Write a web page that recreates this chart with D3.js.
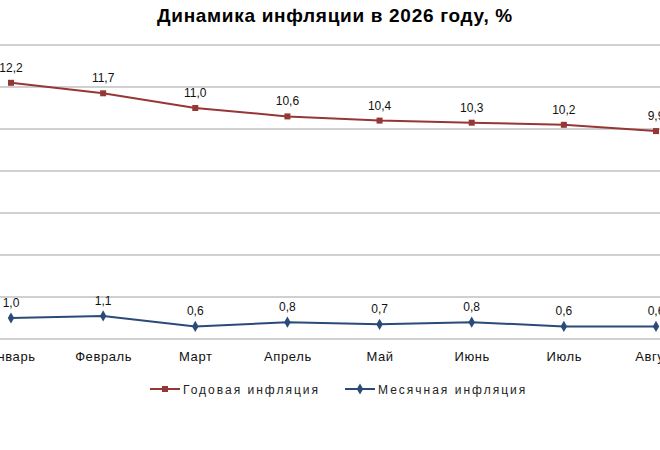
<!DOCTYPE html>
<html>
<head>
<meta charset="utf-8">
<script src="https://cdn.jsdelivr.net/npm/d3@7"></script>
<style>
  body { margin: 0; background: #fff; }
  svg { font-family: "Liberation Sans", Arial, sans-serif; }
</style>
</head>
<body>
<div></div>
<script>
let months = ["Январь", "Февраль", "Март", "Апрель", "Май", "Июнь", "Июль", "Август"]
let annual = [12.2, 11.7, 11.0, 10.6, 10.4, 10.3, 10.2, 9.9]
let monthly = [1.0, 1.1, 0.6, 0.8, 0.7, 0.8, 0.6, 0.6]
let yTicks = [0, 2, 4, 6, 8, 10, 12, 14]

let w = 660;
let h = 450;

let svg = d3.select("div").append("svg").attr("width", w).attr("height", h);

let xScale = d3.scalePoint().domain(months).range([11, 656]);
let yScale = d3.scaleLinear().domain([0, 14]).range([339, 45]);

let fmt = v => d3.format(".1f")(v).replace(".", ",");

// gridlines
svg.append("g")
    .selectAll("line")
    .data(yTicks)
    .enter()
    .append("line")
    .attr("x1", 0)
    .attr("x2", w)
    .attr("y1", d => yScale(d))
    .attr("y2", d => yScale(d))
    .attr("stroke", "#c0c0c0")
    .attr("stroke-width", 1.5);

// title
svg.append("text")
    .attr("x", 335)
    .attr("y", 22)
    .attr("text-anchor", "middle")
    .attr("font-size", "19px")
    .attr("font-weight", "bold")
    .attr("letter-spacing", "0.7px")
    .attr("fill", "#000")
    .text("Динамика инфляции в 2026 году, %");

// x axis labels
const xAxis = d3.axisBottom(xScale).tickSize(0).tickPadding(0);
let gx = svg.append("g").attr("transform", "translate(0,352)").call(xAxis);
gx.select(".domain").remove();
gx.selectAll("text").attr("font-size", "13px").attr("fill", "#111")
    .attr("letter-spacing", "0.6px")
    .attr("font-family", "Liberation Sans, Arial, sans-serif");

let series = [
    { name: "Годовая инфляция", values: annual, color: "#953735", symbol: d3.symbolSquare, size: 36 },
    { name: "Месячная инфляция", values: monthly, color: "#2a4a78", symbol: d3.symbolDiamond, size: 36 }
];

let line = d3.line()
    .x((d, i) => xScale(months[i]))
    .y(d => yScale(d));

series.forEach(s => {
    svg.append("path")
        .datum(s.values)
        .attr("d", line)
        .attr("fill", "none")
        .attr("stroke", s.color)
        .attr("stroke-width", 2);

    svg.append("g")
        .selectAll("path")
        .data(s.values)
        .enter()
        .append("path")
        .attr("d", d3.symbol().type(s.symbol).size(s.size))
        .attr("transform", (d, i) => "translate(" + xScale(months[i]) + "," + yScale(d) + ")")
        .attr("fill", s.color);

    svg.append("g")
        .selectAll("text")
        .data(s.values)
        .enter()
        .append("text")
        .attr("x", (d, i) => xScale(months[i]))
        .attr("y", d => yScale(d) - 11)
        .attr("text-anchor", "middle")
        .attr("font-size", "12px")
        .attr("fill", "#111")
        .text(d => fmt(d));
});

// legend
let legendX = [150, 345];
series.forEach((s, i) => {
    let g = svg.append("g").attr("transform", "translate(" + legendX[i] + ",389)");
    g.append("line").attr("x1", 0).attr("x2", 30).attr("y1", 0).attr("y2", 0)
        .attr("stroke", s.color).attr("stroke-width", 2);
    g.append("path").attr("d", d3.symbol().type(s.symbol).size(s.size))
        .attr("transform", "translate(15,0)").attr("fill", s.color);
    g.append("text").attr("x", 33).attr("y", 5)
        .attr("font-size", "12px")
        .attr("letter-spacing", "2px")
        .attr("fill", "#222")
        .text(s.name);
});
</script>
</body>
</html>
